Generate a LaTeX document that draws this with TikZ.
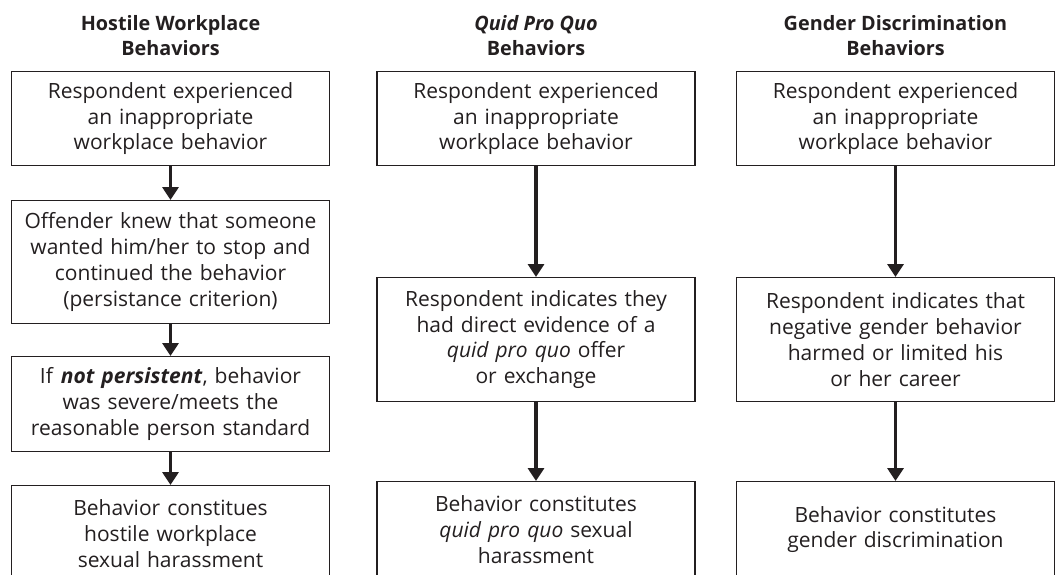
\documentclass[tikz,border=0pt]{standalone}
\usepackage{fontspec}
\setmainfont{Open Sans}
\usetikzlibrary{arrows.meta}
\definecolor{ink}{HTML}{231F20}

\begin{document}
\begin{tikzpicture}[x=1pt, y=-1pt,
    font=\fontsize{21}{25.8}\selectfont, text=ink,
    box/.style={draw=ink, line width=1.1pt, text width=306pt, inner xsep=6pt, inner ysep=0pt, align=center, anchor=north},
    head/.style={font=\fontsize{19.8}{25}\selectfont\bfseries, align=center},
    flow/.style={draw=ink, line width=3.5pt, -{Triangle[width=16pt,length=13pt]}}]
  \useasboundingbox (0, 0) rectangle (1055, 574);
  \clip (0, 0) rectangle (1055, 574);
  % column headings
  \node[head] (hostile) at (170.5, 35.5) {Hostile Workplace\\Behaviors};
  \node[head] (quid) at (536, 35.5) {\textit{Quid Pro Quo}\\Behaviors};
  \node[head] (gender) at (895.5, 35.5) {Gender Discrimination\\Behaviors};
  % hostile workplace
  \node[box, minimum height=94pt] (h1) at (170.5, 71) {Respondent experienced\\an inappropriate\\workplace behavior};
  \node[box, minimum height=123pt] (h2) at (170.5, 200) {Offender knew that someone\\wanted him/her to stop and\\continued the behavior\\(persistance criterion)};
  \node[box, minimum height=95pt] (h3) at (170.5, 356) {If \textbf{\textit{not persistent}}, behavior\\was severe/meets the\\reasonable person standard};
  \node[box, minimum height=96pt] (h4) at (170.5, 485) {Behavior constitues\\hostile workplace\\sexual harassment};
  % quid pro quo
  \node[box, minimum height=94pt] (q1) at (536, 71) {Respondent experienced\\an inappropriate\\workplace behavior};
  \node[box, minimum height=124pt] (q2) at (536, 277) {Respondent indicates they\\had direct evidence of a\\\textit{quid pro quo} offer\\or exchange};
  \node[box, minimum height=96pt] (q3) at (536, 481) {Behavior constitutes\\\textit{quid pro quo} sexual\\harassment};
  % gender discrimination
  \node[box, minimum height=94pt] (g1) at (895.5, 71) {Respondent experienced\\an inappropriate\\workplace behavior};
  \node[box, minimum height=124pt] (g2) at (895.5, 277) {Respondent indicates that\\negative gender behavior\\harmed or limited his\\or her career};
  \node[box, minimum height=96pt] (g3) at (895.5, 481) {Behavior constitutes\\gender discrimination};
  \draw[flow] (h1) -- (h2);
  \draw[flow] (h2) -- (h3);
  \draw[flow] (h3) -- (h4);
  \draw[flow] (q1) -- (q2);
  \draw[flow] (q2) -- (q3);
  \draw[flow] (g1) -- (g2);
  \draw[flow] (g2) -- (g3);
\end{tikzpicture}
\end{document}
